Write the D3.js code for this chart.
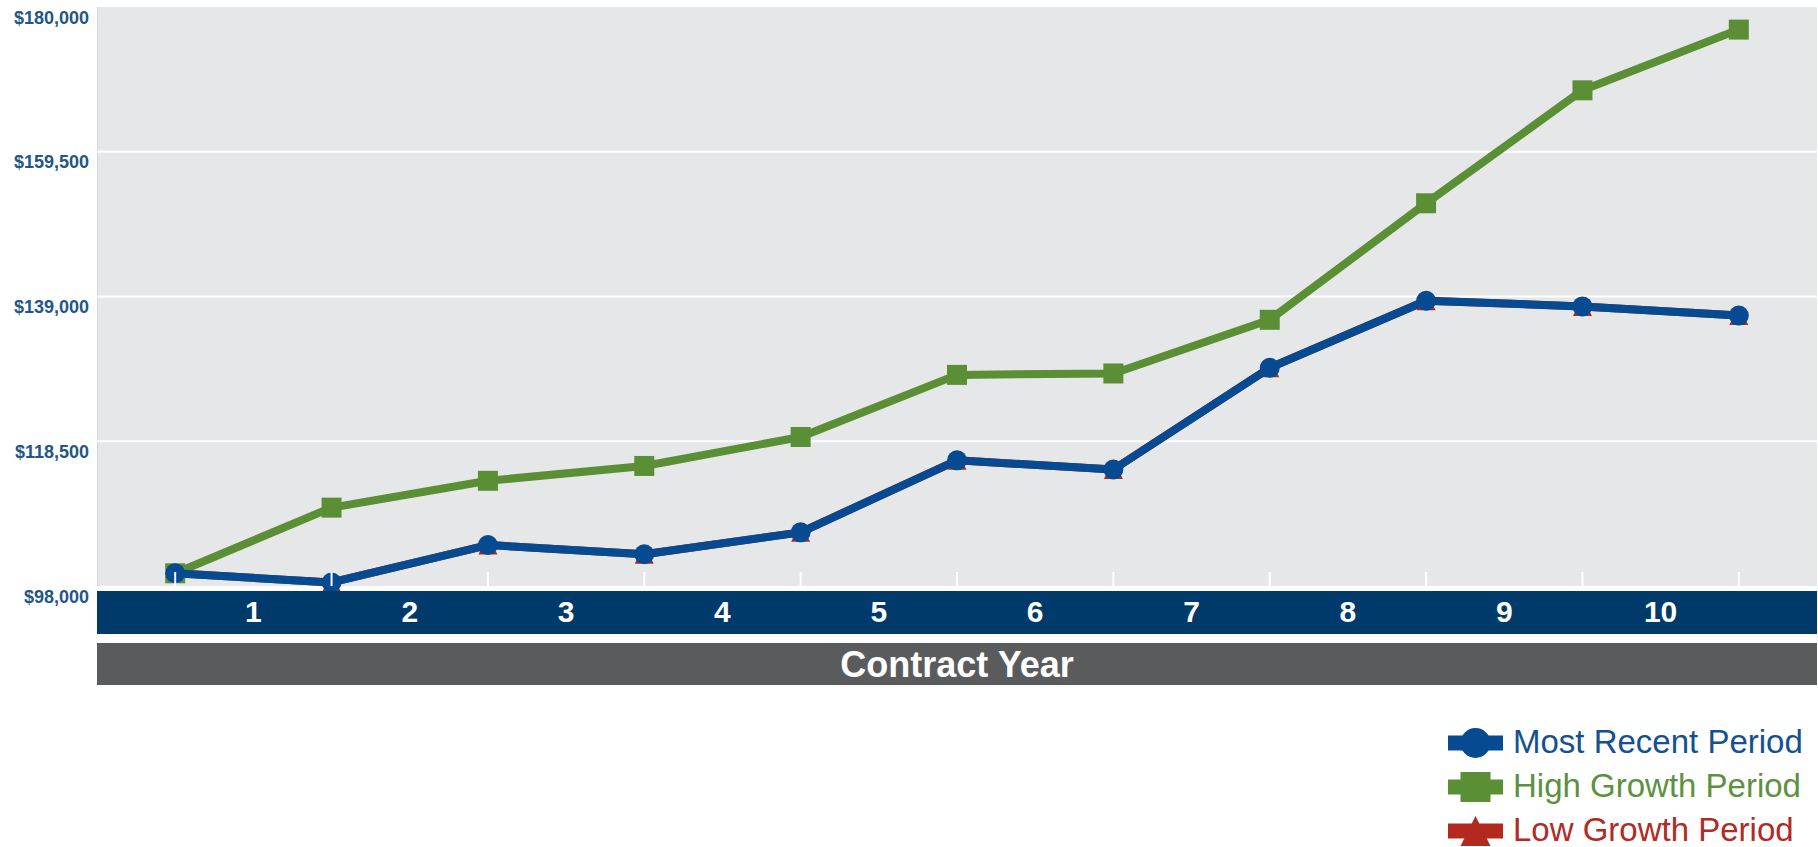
<!DOCTYPE html>
<html>
<head>
<meta charset="utf-8">
<script src="https://cdn.jsdelivr.net/npm/d3@7/dist/d3.min.js"></script>
<style>
  body { margin: 0; background: #fff; }
  svg { display: block; font-family: "Liberation Sans", Arial, sans-serif; }
</style>
</head>
<body>
<div id="chart"></div>
<script>
// point positions along the contract (start + end of each year)
const periods = [0, 1, 2, 3, 4, 5, 6, 7, 8, 9, 10];
const yearLabels = ['1', '2', '3', '4', '5', '6', '7', '8', '9', '10'];
const yTicks = [98000, 118500, 139000, 159500, 180000];

const mostRecent = [99800, 98500, 103800, 102500, 105600, 115800, 114500, 128900, 138400, 137600, 136300];
const highGrowth = [99800, 109100, 112900, 115000, 119100, 127900, 128100, 135700, 152200, 168200, 176800];
const lowGrowth  = [99800, 98500, 103800, 102500, 105600, 115800, 114500, 128900, 138400, 137600, 136300];

const seriesNames = ['Most Recent Period', 'High Growth Period', 'Low Growth Period'];

const width = 1818, height = 847;
const plot = { left: 97, right: 1817, top: 7, bottom: 586 };

const svg = d3.select('#chart').append('svg')
  .attr('width', width)
  .attr('height', height);

const x = d3.scalePoint()
  .domain(periods)
  .range([plot.left, plot.right])
  .padding(0.5);

const y = d3.scaleLinear()
  .domain([98000, 180000])
  .range([plot.bottom, plot.top]);

// plot background
svg.append('rect')
  .attr('x', plot.left)
  .attr('y', plot.top)
  .attr('width', plot.right - plot.left)
  .attr('height', plot.bottom - plot.top)
  .attr('fill', '#e6e7e9');

svg.append('line')
  .attr('x1', plot.left + 0.5).attr('x2', plot.left + 0.5)
  .attr('y1', plot.top).attr('y2', plot.bottom)
  .attr('stroke', '#d6d7d9');

// horizontal grid
svg.append('g')
  .selectAll('line')
  .data(yTicks.slice(1, -1))
  .join('line')
  .attr('x1', plot.left)
  .attr('x2', plot.right)
  .attr('y1', d => y(d))
  .attr('y2', d => y(d))
  .attr('stroke', '#fff')
  .attr('stroke-width', 2);

// y axis labels
const yAxis = svg.append('g')
  .attr('transform', `translate(${plot.left - 8},0)`)
  .call(d3.axisLeft(y).tickValues(yTicks).tickSize(0).tickPadding(0).tickFormat(d3.format('$,')));
yAxis.select('.domain').remove();
yAxis.selectAll('text')
  .attr('dy', '0.9em')
  .attr('fill', '#235688')
  .style('font-size', '18px')
  .style('font-weight', 'bold')
  .style('font-family', '"Liberation Sans", Arial, sans-serif');

// series
const series = [
  { name: seriesNames[2], values: lowGrowth, color: '#b3281f', shape: 'triangle' },
  { name: seriesNames[1], values: highGrowth, color: '#5b8f35', shape: 'square' },
  { name: seriesNames[0], values: mostRecent, color: '#064a91', shape: 'circle' }
];

const line = d3.line()
  .x((d, i) => x(periods[i]))
  .y(d => y(d));

function marker(sel, shape, r, color) {
  if (shape === 'circle') {
    sel.append('circle').attr('r', r).attr('fill', color);
  } else if (shape === 'square') {
    sel.append('rect').attr('x', -r).attr('y', -r).attr('width', 2 * r).attr('height', 2 * r).attr('fill', color);
  } else {
    sel.append('path').attr('d', `M0,${-r}L${r},${r}L${-r},${r}Z`).attr('fill', color);
  }
}

series.forEach(s => {
  const g = svg.append('g');
  g.append('path')
    .datum(s.values)
    .attr('d', line)
    .attr('fill', 'none')
    .attr('stroke', s.color)
    .attr('stroke-width', 8)
    .attr('stroke-linejoin', 'round');
  g.selectAll('g.pt')
    .data(s.values)
    .join('g')
    .attr('class', 'pt')
    .attr('transform', (d, i) => `translate(${x(periods[i])},${y(d)})`)
    .each(function() { marker(d3.select(this), s.shape, s.shape === 'triangle' ? 9.5 : 10, s.color); });
});

// tick marks on top of the series
svg.append('g')
  .selectAll('line')
  .data(periods)
  .join('line')
  .attr('x1', d => x(d))
  .attr('x2', d => x(d))
  .attr('y1', plot.bottom - 14)
  .attr('y2', plot.bottom)
  .attr('stroke', '#fff')
  .attr('stroke-width', 2);

// category band
svg.append('rect')
  .attr('x', plot.left)
  .attr('y', 591)
  .attr('width', plot.right - plot.left)
  .attr('height', 43)
  .attr('fill', '#003a6b');

svg.append('g')
  .selectAll('text')
  .data(yearLabels)
  .join('text')
  .attr('x', (d, i) => (x(periods[i]) + x(periods[i + 1])) / 2)
  .attr('y', 622)
  .attr('text-anchor', 'middle')
  .attr('fill', '#fff')
  .style('font-size', '30px')
  .style('font-weight', 'bold')
  .text(d => d);

// axis title band
svg.append('rect')
  .attr('x', plot.left)
  .attr('y', 643)
  .attr('width', plot.right - plot.left)
  .attr('height', 42)
  .attr('fill', '#5a5b5d');

svg.append('text')
  .attr('x', (plot.left + plot.right) / 2)
  .attr('y', 677)
  .attr('text-anchor', 'middle')
  .attr('fill', '#fff')
  .style('font-size', '36px')
  .style('font-weight', 'bold')
  .text('Contract Year');

// legend
const legendItems = [
  { name: seriesNames[0], color: '#064a91', text: '#15508f', shape: 'circle' },
  { name: seriesNames[1], color: '#5b8f35', text: '#5c913f', shape: 'square' },
  { name: seriesNames[2], color: '#b3281f', text: '#b22a24', shape: 'triangle' }
];

const legend = svg.append('g')
  .selectAll('g')
  .data(legendItems)
  .join('g')
  .attr('transform', (d, i) => `translate(1448,${743 + i * 44})`);

legend.append('line')
  .attr('x1', 0).attr('x2', 55)
  .attr('stroke', d => d.color)
  .attr('stroke-width', 15);

legend.append('g')
  .attr('transform', 'translate(27.5,0)')
  .each(function(d) { marker(d3.select(this), d.shape, 15, d.color); });

legend.append('text')
  .attr('x', 65)
  .attr('y', 10)
  .attr('fill', d => d.text)
  .style('font-size', '33px')
  .text(d => d.name);
</script>
</body>
</html>
